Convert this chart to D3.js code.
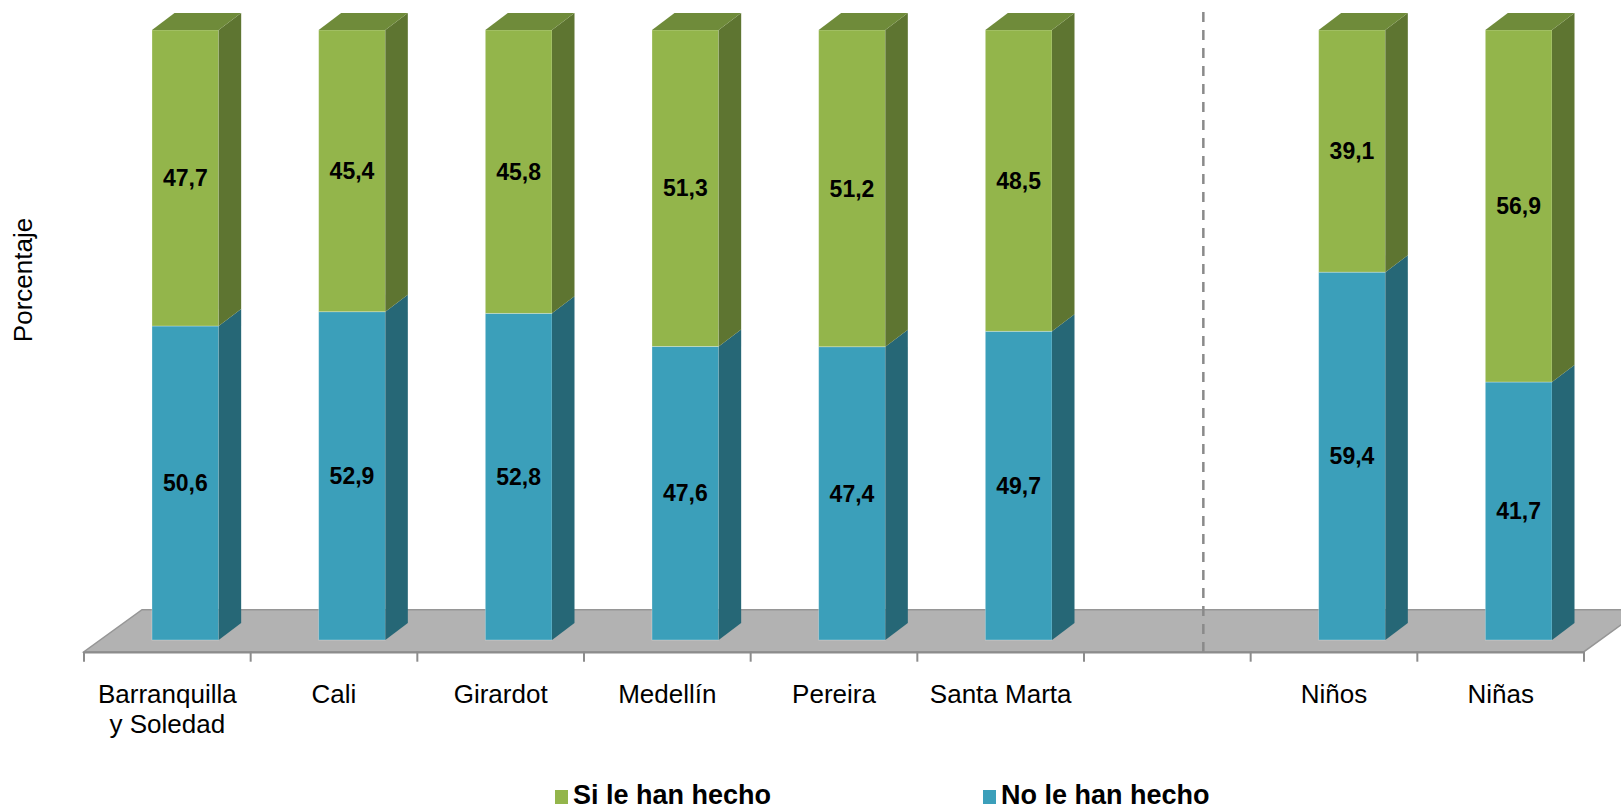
<!DOCTYPE html>
<html>
<head>
<meta charset="utf-8">
<script src="https://cdn.jsdelivr.net/npm/d3@7"></script>
<style>
  html, body { margin: 0; padding: 0; background: #fff; }
  svg { display: block; font-family: "Liberation Sans", Arial, sans-serif; }
</style>
</head>
<body>
<svg id="chart" width="1621" height="811"></svg>
<script>
// ---- data ----
const categories = ["Barranquilla y Soledad", "Cali", "Girardot", "Medellín", "Pereira", "Santa Marta", "", "Niños", "Niñas"];
const categoryLines = [["Barranquilla", "y Soledad"], ["Cali"], ["Girardot"], ["Medellín"], ["Pereira"], ["Santa Marta"], [], ["Niños"], ["Niñas"]];
const siValues = [47.7, 45.4, 45.8, 51.3, 51.2, 48.5, null, 39.1, 56.9];
const noValues = [50.6, 52.9, 52.8, 47.6, 47.4, 49.7, null, 59.4, 41.7];
const seriesNames = ["Si le han hecho", "No le han hecho"];
const yAxisTitle = "Porcentaje";

// ---- styling ----
const colors = {
  si: { front: "#93b54b", side: "#5e7531", top: "#6f8b3a" },
  no: { front: "#3b9fba", side: "#266776", top: "#2f8299" }
};

const svg = d3.select("#chart");

const x = d3.scaleBand().domain(categories).range([84, 1584]).padding(0);
const bw = x.bandwidth();
const barW = bw * 0.4;
const barOffset = 18;          // shift of bars into floor depth
const y = d3.scaleLinear().domain([0, 100]).range([640, 30]);

const floorFront = 651.7, floorDx = 58, floorDy = -42;
const dDx = 22.5, dDy = -17;  // bar depth

const fmt = v => d3.format(".1f")(v).replace(".", ",");

// floor
const fx0 = x.range()[0], fx1 = x.range()[1];
svg.append("polygon")
  .attr("points", [[fx0, floorFront], [fx1, floorFront], [fx1 + floorDx, floorFront + floorDy], [fx0 + floorDx, floorFront + floorDy]].map(p => p.join(",")).join(" "))
  .attr("fill", "#b2b2b2")
  .attr("stroke", "#969696")
  .attr("stroke-width", 1.5);

// axis line + ticks at band boundaries
svg.append("line")
  .attr("x1", fx0).attr("x2", fx1)
  .attr("y1", floorFront + 0.8).attr("y2", floorFront + 0.8)
  .attr("stroke", "#8c8c8c").attr("stroke-width", 2);
const tickXs = categories.map(c => x(c)).concat([fx1]);
svg.selectAll("line.tick").data(tickXs).enter().append("line")
  .attr("class", "tick")
  .attr("x1", d => d).attr("x2", d => d)
  .attr("y1", floorFront).attr("y2", floorFront + 10)
  .attr("stroke", "#8c8c8c").attr("stroke-width", 2);

// dashed separator in the empty slot
const sepX = x("") + bw / 2 + 36;
svg.append("line")
  .attr("x1", sepX).attr("x2", sepX)
  .attr("y1", 12).attr("y2", floorFront)
  .attr("stroke", "#8a8a8a").attr("stroke-width", 2.5)
  .attr("stroke-dasharray", "10,8");

// bars
const pts = arr => arr.map(p => p.join(",")).join(" ");
categories.forEach((c, i) => {
  if (siValues[i] == null) return;
  const total = siValues[i] + noValues[i];
  const noPct = noValues[i] / total * 100;
  const x0 = x(c) + bw / 2 + barOffset - barW / 2;
  const x1 = x0 + barW;
  const segs = [
    { key: "no", v0: 0, v1: noPct, val: noValues[i] },
    { key: "si", v0: noPct, v1: 100, val: siValues[i] }
  ];
  const g = svg.append("g");
  segs.forEach((s, k) => {
    const yb = y(s.v0), yt = y(s.v1);
    g.append("rect")
      .attr("x", x0).attr("y", yt).attr("width", barW).attr("height", yb - yt)
      .attr("fill", colors[s.key].front)
      .attr("stroke", "rgba(255,255,255,0.35)").attr("stroke-width", 0.8);
    g.append("polygon")
      .attr("points", pts([[x1, yb], [x1 + dDx, yb + dDy], [x1 + dDx, yt + dDy], [x1, yt]]))
      .attr("fill", colors[s.key].side);
    if (k === segs.length - 1) {
      g.append("polygon")
        .attr("points", pts([[x0, yt], [x0 + dDx, yt + dDy], [x1 + dDx, yt + dDy], [x1, yt]]))
        .attr("fill", colors[s.key].top);
    }
    g.append("text")
      .attr("x", (x0 + x1) / 2)
      .attr("y", (yb + yt) / 2)
      .attr("dy", "0.36em")
      .attr("text-anchor", "middle")
      .attr("font-size", 23)
      .attr("font-weight", "bold")
      .attr("fill", "#000")
      .text(fmt(s.val));
  });
});

// category labels
categories.forEach((c, i) => {
  const t = svg.append("text")
    .attr("x", x(c) + bw / 2)
    .attr("y", 703)
    .attr("text-anchor", "middle")
    .attr("font-size", 26)
    .attr("fill", "#000");
  categoryLines[i].forEach((line, j) => {
    t.append("tspan").attr("x", x(c) + bw / 2).attr("dy", j === 0 ? 0 : 30).text(line);
  });
});

// y-axis title
svg.append("text")
  .attr("transform", "translate(32,280) rotate(-90)")
  .attr("text-anchor", "middle")
  .attr("font-size", 26)
  .attr("fill", "#000")
  .text(yAxisTitle);

// legend
const legendX = [555, 983];
seriesNames.forEach((name, i) => {
  const key = i === 0 ? "si" : "no";
  svg.append("rect")
    .attr("x", legendX[i]).attr("y", 790)
    .attr("width", 13).attr("height", 14)
    .attr("fill", colors[key].front);
  svg.append("text")
    .attr("x", legendX[i] + 18).attr("y", 804)
    .attr("font-size", 27)
    .attr("font-weight", "bold")
    .attr("fill", "#000")
    .text(name);
});
</script>
</body>
</html>
